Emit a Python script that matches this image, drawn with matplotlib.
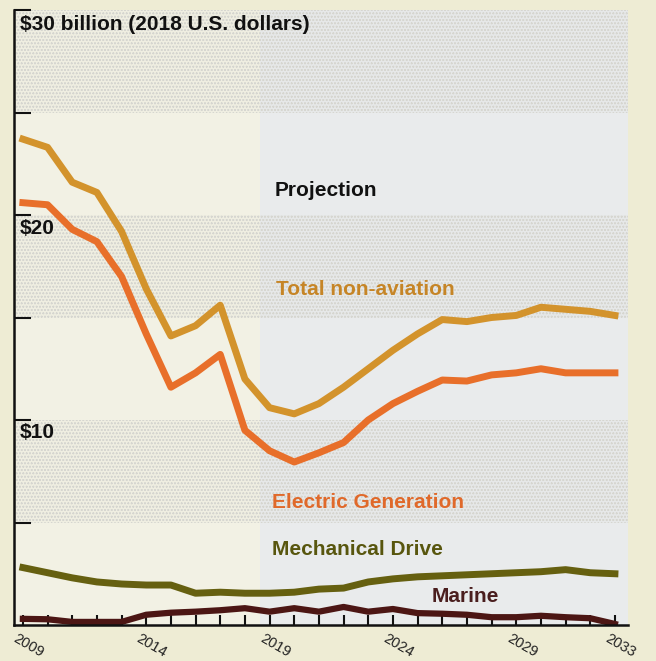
import matplotlib.pyplot as plt
import numpy as np

# spending by segment, billions of 2018 US dollars
years = np.arange(2009, 2034)
total = [23.7, 23.3, 21.6, 21.1, 19.2, 16.4, 14.1, 14.6, 15.6, 12.0, 10.6, 10.3, 10.8,
         11.6, 12.5, 13.4, 14.2, 14.9, 14.8, 15.0, 15.1, 15.5, 15.4, 15.3, 15.1]
electric = [20.6, 20.5, 19.3, 18.7, 17.0, 14.2, 11.6, 12.3, 13.2, 9.5, 8.5, 7.95, 8.4,
            8.9, 10.0, 10.8, 11.4, 11.95, 11.9, 12.2, 12.3, 12.5, 12.3, 12.3, 12.3]
mechanical = [2.8, 2.55, 2.3, 2.1, 2.0, 1.95, 1.95, 1.55, 1.6, 1.55, 1.55, 1.6, 1.75,
              1.8, 2.1, 2.25, 2.35, 2.4, 2.45, 2.5, 2.55, 2.6, 2.7, 2.55, 2.5]
marine = [0.3, 0.28, 0.15, 0.15, 0.15, 0.5, 0.6, 0.65, 0.72, 0.82, 0.65, 0.82, 0.65,
          0.88, 0.65, 0.78, 0.58, 0.55, 0.5, 0.38, 0.38, 0.45, 0.38, 0.33, 0.05]
tick_years = [2009, 2014, 2019, 2024, 2029, 2033]

c_total = "#D3932C"
c_elec = "#E86F2A"
c_mech = "#666010"
c_marine = "#4C1614"

plt.rcParams["font.family"] = ["Liberation Sans", "DejaVu Sans"]
plt.rcParams["hatch.linewidth"] = 0.4

fig = plt.figure(figsize=(6.56, 6.61), dpi=100, facecolor="#EEECD4")
ax = fig.add_axes([14/656, 36/661, 614/656, 615/661])
ax.set_xlim(2008.64, 2033.53)
ax.set_ylim(0, 30)
ax.patch.set_alpha(0)

# history vs projection background
ax.axvspan(2008.64, 2018.6, color="#F2F1E4", zorder=0, lw=0)
ax.axvspan(2018.6, 2033.53, color="#E9EBEC", zorder=0, lw=0)
# stippled bands
for lo in (5, 15, 25):
    ax.axhspan(lo, lo + 5, facecolor=(0.45, 0.45, 0.4, 0.025), edgecolor="#D6D6D0",
               hatch="ooooo", lw=0, zorder=0.5)

lw = 5
ax.plot(years, total, color=c_total, lw=lw, solid_joinstyle="round", zorder=3)
ax.plot(years, electric, color=c_elec, lw=lw, solid_joinstyle="round", zorder=3)
ax.plot(years, mechanical, color=c_mech, lw=lw, solid_joinstyle="round", zorder=3)
ax.plot(years, marine, color=c_marine, lw=4.5, solid_joinstyle="round", zorder=3)

# axes
for s in ("top", "right"):
    ax.spines[s].set_visible(False)
for s in ("left", "bottom"):
    ax.spines[s].set_linewidth(1.8)
    ax.spines[s].set_color("#111111")
    ax.spines[s].set_zorder(5)
ax.set_yticks([5, 10, 15, 20, 25, 30])
ax.set_yticklabels([])
ax.tick_params(axis="y", direction="in", length=12, width=1.5, color="#111111")
ax.set_xticks(years)
ax.set_xticklabels([])
ax.tick_params(axis="x", direction="in", length=7, width=1.5, color="#111111")

for y in tick_years:
    ax.annotate(str(y), xy=(y, 0), xycoords="data", xytext=(-5, -6),
                textcoords="offset pixels", rotation=-30, rotation_mode="anchor",
                ha="left", va="top", fontsize=10.5, color="#222222",
                annotation_clip=False)

ylab = {"fontsize": 15, "fontweight": "bold", "color": "#111111", "va": "center", "ha": "left"}
ax.annotate("$30 billion (2018 U.S. dollars)", xy=(2008.64, 30), xytext=(6, -15),
            textcoords="offset pixels", annotation_clip=False, **ylab)
ax.annotate("$20", xy=(2008.64, 20), xytext=(6, -13), textcoords="offset pixels", **ylab)
ax.annotate("$10", xy=(2008.64, 10), xytext=(6, -13), textcoords="offset pixels", **ylab)

lab = {"fontsize": 15, "fontweight": "bold", "va": "center", "ha": "left"}
ax.text(2019.2, 21.2, "Projection", color="#111111", **lab)
ax.text(2019.25, 16.35, "Total non-aviation", color="#C68526", **lab)
ax.text(2019.1, 6.0, "Electric Generation", color="#E0692A", **lab)
ax.text(2019.1, 3.66, "Mechanical Drive", color="#58560E", **lab)
ax.text(2025.55, 1.37, "Marine", color="#4A1E1E", **lab)

fig.savefig("out.png", dpi=100, facecolor=fig.get_facecolor())
